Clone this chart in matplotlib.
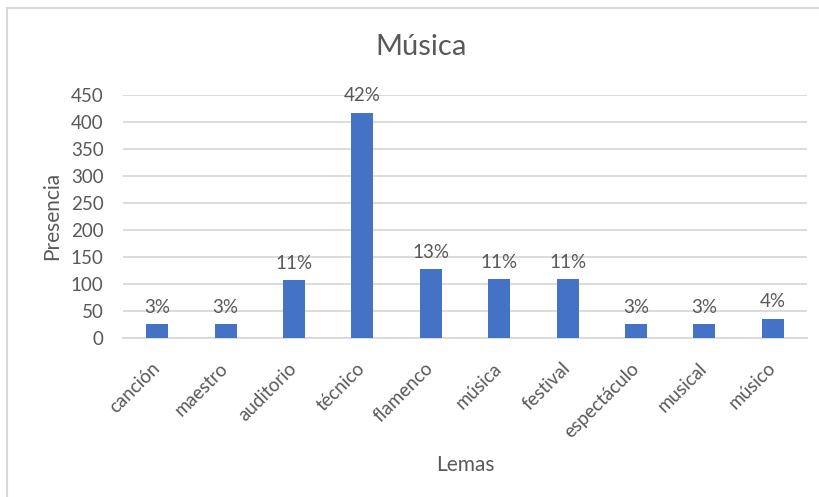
import matplotlib.pyplot as plt
from matplotlib.patches import Rectangle

# data
lemas = ['canción', 'maestro', 'auditorio', 'técnico', 'flamenco',
         'música', 'festival', 'espectáculo', 'musical', 'músico']
presencia = [25, 25, 106, 417, 127, 109, 109, 25, 25, 35]
porcentajes = ['3%', '3%', '11%', '42%', '13%', '11%', '11%', '3%', '3%', '4%']
y_ticks = [0, 50, 100, 150, 200, 250, 300, 350, 400, 450]

BAR = '#4472C4'
TEXT = '#595959'
GRID = '#D9D9D9'

plt.rcParams['font.family'] = ['Lato', 'DejaVu Sans']

fig = plt.figure(figsize=(8.2, 4.97), dpi=100)
ax = fig.add_axes([123 / 820, 1 - 337.7 / 497, 684 / 820, 243 / 497])

# chart area border (Excel style)
fig.patches.append(Rectangle((7 / 820, -0.05), 1.1, 1 - 8 / 497 + 0.05,
                             transform=fig.transFigure, fill=False,
                             edgecolor=GRID, linewidth=1.5))

bars = ax.bar(range(len(lemas)), presencia, width=0.32, color=BAR, zorder=3)
ax.bar_label(bars, labels=porcentajes, padding=6, color=TEXT, fontsize=13.5)

ax.set_ylim(0, 450)
ax.set_xlim(-0.5, len(lemas) - 0.5)
ax.set_yticks(y_ticks)
ax.yaxis.grid(True, color=GRID, linewidth=1.3, zorder=0)
ax.set_axisbelow(True)
for side in ['top', 'right', 'left']:
    ax.spines[side].set_visible(False)
ax.spines['bottom'].set_color(GRID)
ax.spines['bottom'].set_linewidth(1.3)

ax.set_xticks(range(len(lemas)))
ax.set_xticklabels(lemas, rotation=45, ha='right', va='center',
                   rotation_mode='anchor')
ax.tick_params(axis='x', length=0, pad=20, labelsize=13.5, labelcolor=TEXT)
ax.tick_params(axis='y', length=0, pad=14, labelsize=13.5, labelcolor=TEXT)

ax.set_ylabel('Presencia', fontsize=15, color=TEXT, labelpad=6)
fig.text(465 / 820, 1 - 465 / 497, 'Lemas', fontsize=15, color=TEXT,
         ha='center', va='center')
fig.text(421 / 820, 1 - 47 / 497, 'Música', fontsize=21, color=TEXT,
         ha='center', va='center')

fig.savefig('out.png', dpi=100)
